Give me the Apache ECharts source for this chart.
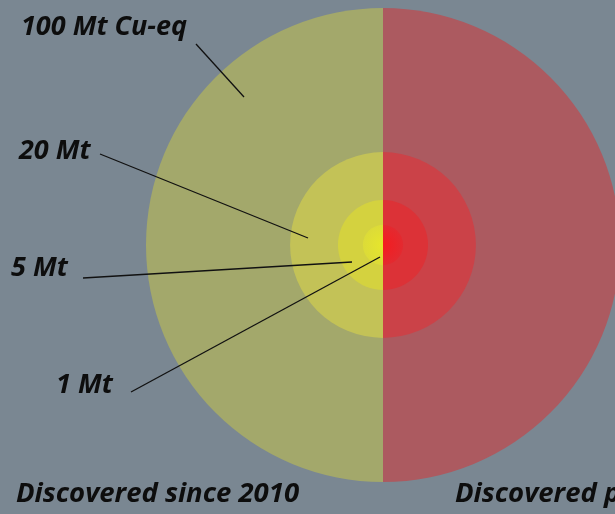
<!DOCTYPE html>
<html><head><meta charset="utf-8">
<script src="https://cdn.jsdelivr.net/npm/echarts@6/dist/echarts.min.js"></script>
<style>html,body{margin:0;padding:0;background:#7a8792;overflow:hidden}#c{width:615px;height:514px}</style>
</head><body><div id="c"></div>
<script>
// Halves of the circle (angle categories): right, then left (clockwise from top)
const halves = ['Discovered pre-2010', 'Discovered since 2010'];
// Deposit size classes, outermost first
const sizeLabels = ['100 Mt Cu-eq', '20 Mt', '5 Mt', '1 Mt'];
// Relative circle radius of each class (outer circle = 100)
const ringRadius = [100, 39.2, 19, 8.5];

// styles
const rightColors = ['#ac5a60', '#cb4248', '#dc3237',
  {type:'radial', x:0, y:0.5, r:1, colorStops:[{offset:0,color:'#f41c20'},{offset:1,color:'#e32a30'}]}];
const leftColors = ['#a3a86b', '#c3c257', '#d4d23f',
  {type:'radial', x:1, y:0.5, r:1, colorStops:[{offset:0,color:'#e6e62c'},{offset:1,color:'#dcdb38'}]}];

const chart = echarts.init(document.getElementById('c'), null, {renderer:'canvas'});
const textStyle = (t, x, y, fs) => ({type:'text', x, y, z:100, silent:true,
  style:{text:t, font:'italic bold ' + fs + 'px "Open Sans"', fill:'#0d0d0d', verticalAlign:'middle', align:'left'}});
const line = (x1,y1,x2,y2) => ({type:'line', z:100, silent:true, shape:{x1,y1,x2,y2}, style:{stroke:'#111', lineWidth:1.3}});

chart.setOption({
  backgroundColor:'#7a8792',
  animation:false,
  polar:{center:[383,245], radius:237},
  angleAxis:{type:'category', data:halves, startAngle:90, clockwise:true, show:false},
  radiusAxis:{type:'value', min:0, max:100, show:false},
  series: sizeLabels.map((name,i)=>({
    type:'bar', coordinateSystem:'polar', name, z:2,
    barGap:'-100%', barCategoryGap:'0%', silent:true,
    data:[{value:ringRadius[i], itemStyle:{color:rightColors[i]}},
          {value:ringRadius[i], itemStyle:{color:leftColors[i]}}]
  })),
  graphic:[
    line(196,44,244,97),
    line(100,154,308,238),
    line(83,278,352,262),
    line(131,392,380,257),
    textStyle(sizeLabels[0], 21, 27, 27),
    textStyle(sizeLabels[1], 19, 151, 27),
    textStyle(sizeLabels[2], 11, 268, 27),
    textStyle(sizeLabels[3], 56, 385, 27),
    textStyle(halves[1], 16, 494, 27.5),
    textStyle(halves[0], 455, 494, 27.5)
  ]
});
</script></body></html>
